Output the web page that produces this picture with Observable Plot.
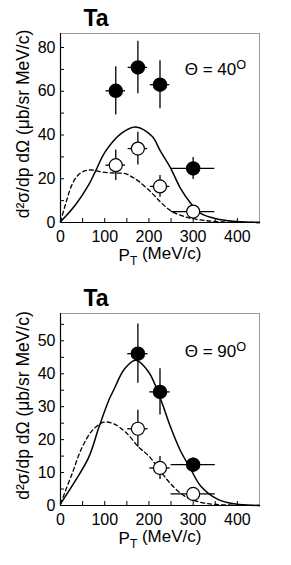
<!DOCTYPE html>
<html><head><meta charset="utf-8">
<script src="https://cdn.jsdelivr.net/npm/d3@7"></script>
<script src="https://cdn.jsdelivr.net/npm/@observablehq/plot@0.6"></script>
<style>
body{margin:0;background:#fff;}
#chart{width:291px;}
svg{display:block;overflow:visible;}
</style></head><body><div id="chart"></div>
<script>
// ---- data ----
const panelTitle = "Ta";
const xLabel = "PT (MeV/c)";
const yLabel = "d²σ/dp dΩ (μb/sr MeV/c)";
const xTicks = [0, 100, 200, 300, 400];
const xMinor = [0, 50, 100, 150, 200, 250, 300, 350, 400];

// Theta = 40
const angle40 = "40";
const yTicks40 = [0, 20, 40, 60, 80];
const yMinor40 = [0, 10, 20, 30, 40, 50, 60, 70, 80];
const pt40 = [125, 175, 225, 300];
const ptErr40 = [22, 22, 22, 49];
const filled40 = [60.2, 70.9, 63, 24.7];
const filledErr40 = [11, 12, 11, 5];
const open40 = [26.2, 33.8, 16.5, 5];
const openErr40 = [7, 7.5, 5, 2];
const solid40 = [[0,0.3],[34,8.1],[64,17.3],[79,23.4],[102,32.6],[139,41],[170,43.7],[207,39.4],[226,32.6],[249,24.9],[271,15.7],[294,8.9],[316,4.3],[354,1.6],[391,0.6],[429,0.15],[450,0.05]];
const dashed40 = [[0,0.3],[11,8.1],[26,17.3],[41,21.9],[56,23.7],[70,24],[86,23.4],[105,22.8],[124,22.6],[147,22.3],[160,21],[177,18.8],[207,13.4],[226,9.4],[249,5.4],[279,2.8],[316,1.2],[354,0.4],[400,0.1],[450,0]];

// Theta = 90
const angle90 = "90";
const yTicks90 = [0, 10, 20, 30, 40, 50];
const yMinor90 = [0, 5, 10, 15, 20, 25, 30, 35, 40, 45, 50, 55];
const pt90 = [175, 225, 300];
const ptErr90 = [23, 23, 50];
const filled90 = [46.1, 34.5, 12.4];
const filledErr90 = [9, 7, 2];
const open90 = [23.3, 11.4, 3.5];
const openErr90 = [5.6, 3.5, 1];
const solid90 = [[0,0.5],[34,7.6],[64,14.7],[87,23.8],[109,31.9],[120,35],[145,41.5],[170,44.1],[200,40.4],[226,32.4],[249,23.8],[271,16.7],[294,11.2],[316,6.1],[354,2],[391,0.5],[430,0.1],[450,0]];
const dashed90 = [[0,0.5],[26,9.6],[49,17.7],[72,22.8],[98,25.3],[120,24.8],[147,22.3],[177,17.7],[200,15],[226,10.4],[249,6.6],[279,3],[316,1],[354,0.3],[400,0.1],[450,0]];

const font = "'Liberation Sans', Arial, Helvetica, sans-serif";

function rows(xs, xe, ys, ye) {
  return xs.map((x, i) => ({x, xe: xe[i], y: ys[i], ye: ye[i]}));
}

function panel(cfg) {
  const filled = rows(cfg.pt, cfg.ptErr, cfg.filled, cfg.filledErr);
  const open = rows(cfg.pt, cfg.ptErr, cfg.open, cfg.openErr);
  const bars = (data) => [
    Plot.ruleX(data, {x: "x", y1: d => d.y - d.ye, y2: d => d.y + d.ye, stroke: "#000", strokeWidth: 1.3}),
    Plot.ruleY(data, {y: "y", x1: d => d.x - d.xe, x2: d => d.x + d.xe, stroke: "#000", strokeWidth: 1.3})
  ];
  const svg = Plot.plot({
    width: 291, height: cfg.height,
    marginLeft: 60, marginRight: 32, marginTop: cfg.marginTop, marginBottom: cfg.marginBottom,
    style: {fontFamily: font, background: "#fff", color: "#000"},
    x: {domain: [0, 450]},
    y: {domain: cfg.yDomain},
    marks: [
      Plot.frame({stroke: "#999", strokeWidth: 1}),
      Plot.axisX({ticks: xTicks, tickSize: 0, tickPadding: 8, fontSize: 16, label: null, tickFormat: d => d, style: {letterSpacing: "0.6px"}}),
      Plot.axisX({ticks: xMinor, tickSize: -4, text: null, label: null, strokeWidth: 1}),
      Plot.axisY({ticks: cfg.yTicks, tickSize: 0, tickPadding: 5, fontSize: 16, label: null, tickFormat: d => d}),
      Plot.axisY({ticks: cfg.yMinor, tickSize: -4, text: null, label: null, strokeWidth: 1}),
      Plot.ruleX([0], {stroke: "#000", strokeWidth: 1.2}),
      Plot.ruleY([0], {stroke: "#000", strokeWidth: 1.2}),
      Plot.line(cfg.dashed, {x: d => d[0], y: d => d[1], curve: "catmull-rom", stroke: "#000", strokeWidth: 1.3, strokeDasharray: "4,3"}),
      Plot.line(cfg.solid, {x: d => d[0], y: d => d[1], curve: "catmull-rom", stroke: "#000", strokeWidth: 1.5}),
      ...bars(filled),
      ...bars(open),
      Plot.dot(filled, {x: "x", y: "y", r: 6.5, fill: "#000", stroke: "#000"}),
      Plot.dot(open, {x: "x", y: "y", r: 6.5, fill: "#fff", stroke: "#000", strokeWidth: 1.2}),
      Plot.text([panelTitle], {frameAnchor: "top-left", textAnchor: "start", lineAnchor: "bottom", dx: 23, dy: -8, fontSize: 23, fontWeight: "bold", text: d => d}),
      Plot.text([cfg.angle], {x: 281, y: cfg.thetaY, textAnchor: "start", lineAnchor: "bottom", fontSize: 17, text: d => "Θ = " + d, className: "theta"}),
      Plot.text([xLabel], {frameAnchor: "bottom", textAnchor: "middle", lineAnchor: "middle", dy: 33, fontSize: 17, text: d => d, className: "xlab"}),
      Plot.text([yLabel], {frameAnchor: "left", textAnchor: "middle", rotate: -90, lineAnchor: "bottom", dx: -32, dy: -4, fontSize: 17.5, text: d => d})
    ]
  });
  const s = d3.select(svg);
  s.selectAll(".theta text").each(function() {
    const t = d3.select(this);
    const txt = t.text();
    t.text(txt);
    t.append("tspan").attr("dy", "-0.5em").attr("font-size", "0.75em").text("O");
  });
  s.selectAll(".xlab text").each(function() {
    const t = d3.select(this);
    t.text("P");
    t.append("tspan").attr("dy", "0.35em").attr("font-size", "0.7em").text("T");
    t.append("tspan").attr("dy", "-0.35em").text(" (MeV/c)");
  });
  return svg;
}

const chart = document.getElementById("chart");
chart.appendChild(panel({
  height: 280, marginTop: 33, marginBottom: 58, yDomain: [0, 86.4],
  yTicks: yTicks40, yMinor: yMinor40, pt: pt40, ptErr: ptErr40,
  filled: filled40, filledErr: filledErr40, open: open40, openErr: openErr40,
  solid: solid40, dashed: dashed40, angle: angle40, thetaY: 67.4
}));
chart.appendChild(panel({
  height: 285, marginTop: 33, marginBottom: 60, yDomain: [0, 58.3],
  yTicks: yTicks90, yMinor: yMinor90, pt: pt90, ptErr: ptErr90,
  filled: filled90, filledErr: filledErr90, open: open90, openErr: openErr90,
  solid: solid90, dashed: dashed90, angle: angle90, thetaY: 45
}));
</script></body></html>
